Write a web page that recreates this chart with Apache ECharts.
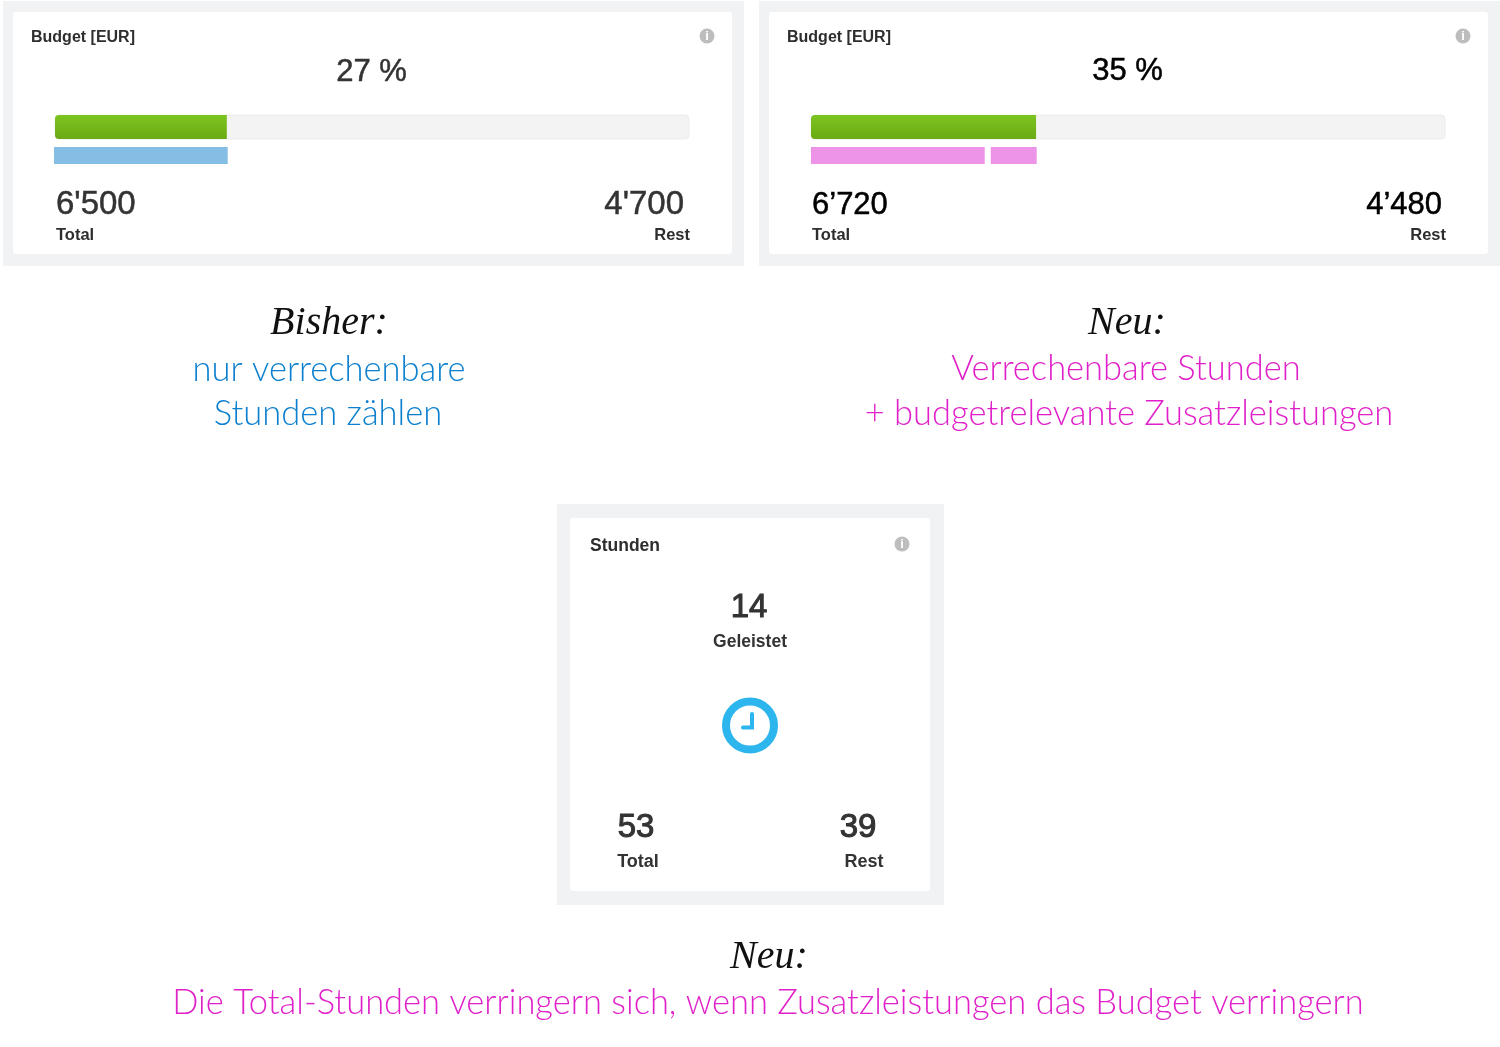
<!DOCTYPE html>
<html>
<head>
  <meta charset="utf-8">
  <title>Budget und Stunden</title>
  <style>
    html, body { margin: 0; padding: 0; background: #fff; }
    #chart { width: 1500px; height: 1047px; }
  </style>
</head>
<body>
  <div id="chart"></div>
  <script src="https://cdn.jsdelivr.net/npm/echarts@6/dist/echarts.min.js"></script>
  <script>
    // percent of the budget
    const budgetCategory = ['Budget'];
    const usedBisher = [27.1];
    const usedNeu = [35.5];
    const blueHours = [27.4];
    const pinkHours = [27.4];
    const pinkGap = [0.95];
    const pinkExtras = [7.25];

    const panelTitles = ['Budget [EUR]', 'Budget [EUR]', 'Stunden'];
    const percentLabels = ['27 %', '35 %'];
    const totalLabels = ["6'500", '6’720', '53'];
    const restLabels = ["4'700", '4’480', '39'];
    const doneHours = '14';

    const sans = '"Liberation Sans", Arial, sans-serif';
    const thin = 'Lato, "Open Sans", sans-serif';
    const script = '"Liberation Serif", serif';
    const dark = '#333333';
    const blue = '#0c80cf';
    const magenta = '#e021c9';

    // heavy > 0 thickens regular digits a little with a stroke of the same colour
    const txt = (text, x, y, font, fill, align, heavy) => ({
      type: 'text',
      silent: true,
      style: {
        text, x, y, font,
        fill: fill || dark,
        stroke: heavy ? (fill || dark) : null,
        lineWidth: heavy || 0,
        textAlign: align || 'center',
        textVerticalAlign: 'middle',
        verticalAlign: 'middle'
      }
    });

    const box = (x, y, w, h, fill, r) => ({
      type: 'rect',
      silent: true,
      shape: { x, y, width: w, height: h, r: r || 0 },
      style: { fill }
    });

    const info = (x, y) => [
      { type: 'circle', silent: true, shape: { cx: x, cy: y, r: 7.5 }, style: { fill: '#bdbdbd' } },
      txt('i', x, y + 0.5, 'bold 13px ' + sans, '#fff')
    ];

    const panel = (x0, i, numColor) => [
      box(x0 - 10, 1, 741, 265, '#f1f2f4'),
      box(x0, 12, 719, 242, '#fff', 3),
      txt(panelTitles[i], x0 + 18, 38, 'bold 16px ' + sans, '#2e2e2e', 'left'),
      txt(percentLabels[i], x0 + 358.5, i ? 71 : 72, '31px ' + sans, numColor, 'center', 0.5),
      txt(totalLabels[i], x0 + 43, 205, (i ? '31px ' : '33px ') + sans, numColor, 'left', 0.5),
      txt('Total', x0 + 43, 235, 'bold 16.5px ' + sans, '#2e2e2e', 'left'),
      txt(restLabels[i], x0 + (i ? 673 : 671), 205, (i ? '31px ' : '33px ') + sans, numColor, 'right', 0.5),
      txt('Rest', x0 + 677, 235, 'bold 16.5px ' + sans, '#2e2e2e', 'right'),
      ...info(x0 + 694, 36)
    ];

    const graphics = [
      ...panel(13, 0, dark),
      ...panel(769, 1, '#000'),

      box(557, 504, 387, 401, '#f1f2f4'),
      box(570, 518, 360, 373, '#fff', 3),
      txt(panelTitles[2], 590, 546, 'bold 17.5px ' + sans, '#2e2e2e', 'left'),
      ...info(902, 544),
      txt(doneHours, 749, 608, '33px ' + sans, dark, 'center', 1),
      txt('Geleistet', 750, 642, 'bold 17.5px ' + sans),
      txt(totalLabels[2], 636, 828, '33px ' + sans, dark, 'center', 1),
      txt('Total', 638, 862, 'bold 18px ' + sans),
      txt(restLabels[2], 858, 828, '33px ' + sans, dark, 'center', 1),
      txt('Rest', 864, 862, 'bold 18px ' + sans),
      // clock icon
      { type: 'circle', silent: true, shape: { cx: 750, cy: 725.5, r: 24 }, style: { fill: 'none', stroke: '#2db5ee', lineWidth: 8 } },
      { type: 'polyline', silent: true, shape: { points: [[752, 714], [752, 727.5], [743, 727.5]] }, style: { fill: 'none', stroke: '#2db5ee', lineWidth: 4, lineCap: 'round' } },

      txt('Bisher:', 329, 323, 'italic 40px ' + script, '#111'),
      txt('nur verrechenbare', 329, 370, '300 34.5px ' + thin, blue),
      txt('Stunden zählen', 328, 414, '300 34.5px ' + thin, blue),
      txt('Neu:', 1127, 323, 'italic 40px ' + script, '#111'),
      txt('Verrechenbare Stunden', 1126, 369, '300 34.5px ' + thin, magenta),
      txt('+ budgetrelevante Zusatzleistungen', 1129, 414, '300 34.5px ' + thin, magenta),
      txt('Neu:', 769, 957, 'italic 40px ' + script, '#111'),
      txt('Die Total-Stunden verringern sich, wenn Zusatzleistungen das Budget verringern', 768, 1003, '300 34.5px ' + thin, magenta)
    ];

    const grids = [
      { left: 55, top: 115, width: 634, height: 24 },
      { left: 54, top: 147, width: 634, height: 17 },
      { left: 811, top: 115, width: 634, height: 24 },
      { left: 811, top: 147, width: 634, height: 17 }
    ];

    const greenFill = {
      type: 'linear', x: 0, y: 0, x2: 0, y2: 1,
      colorStops: [{ offset: 0, color: '#7cc520' }, { offset: 1, color: '#6aaa14' }]
    };

    const progress = (idx, data) => ({
      type: 'bar',
      xAxisIndex: idx,
      yAxisIndex: idx,
      data,
      barWidth: 24,
      silent: true,
      showBackground: true,
      backgroundStyle: { color: '#f3f3f3', borderColor: '#ececec', borderWidth: 1, borderRadius: 4 },
      itemStyle: { color: greenFill, borderRadius: [4, 0, 0, 4] }
    });

    const strip = (idx, data, color) => ({
      type: 'bar',
      xAxisIndex: idx,
      yAxisIndex: idx,
      stack: 'strip' + idx,
      data,
      barWidth: 17,
      silent: true,
      itemStyle: { color }
    });

    const chart = echarts.init(document.getElementById('chart'));
    chart.setOption({
      animation: false,
      backgroundColor: '#fff',
      tooltip: { show: false },
      grid: grids,
      xAxis: grids.map((g, i) => ({ type: 'value', gridIndex: i, min: 0, max: 100, show: false })),
      yAxis: grids.map((g, i) => ({ type: 'category', gridIndex: i, data: budgetCategory, show: false })),
      graphic: { elements: graphics },
      series: [
        progress(0, usedBisher),
        strip(1, blueHours, '#85bee5'),
        progress(2, usedNeu),
        strip(3, pinkHours, '#ee94e8'),
        strip(3, pinkGap, 'transparent'),
        strip(3, pinkExtras, '#ee94e8')
      ]
    });
  </script>
</body>
</html>
